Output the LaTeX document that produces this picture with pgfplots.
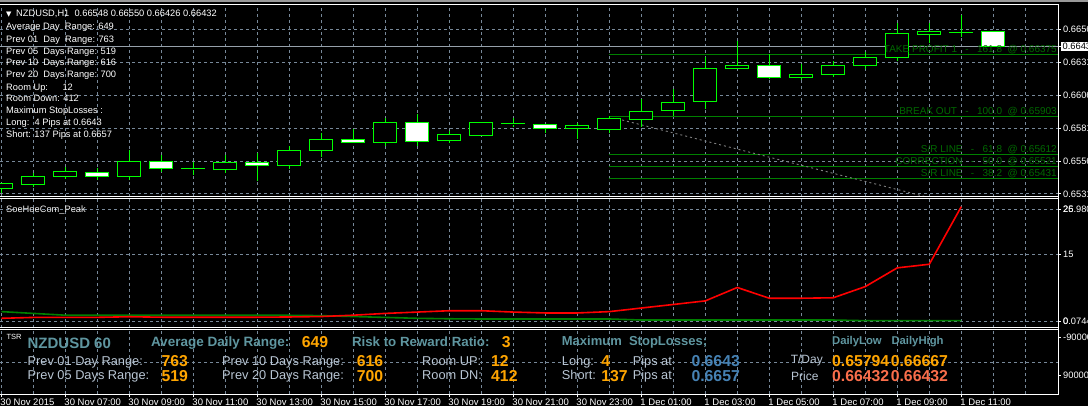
\documentclass[border=0pt]{standalone}
\usepackage{pgfplots}
\pgfplotsset{compat=1.18}
\usepackage{pgfplotstable}
\usepgfplotslibrary{statistics}
\usepackage{fontspec}
\setmainfont{Liberation Sans}
\newfontfamily\dejavu{DejaVu Sans}

\definecolor{gridc}{RGB}{119,136,153}
\definecolor{candlegreen}{RGB}{0,255,0}
\definecolor{lvl}{RGB}{0,128,0}
\definecolor{lvltext}{RGB}{0,105,0}
\definecolor{cadet}{RGB}{95,150,160}
\definecolor{lsb}{RGB}{185,198,212}
\definecolor{orng}{RGB}{255,165,0}
\definecolor{steel}{RGB}{70,130,180}
\definecolor{tomato}{RGB}{250,110,75}
\definecolor{pricegray}{RGB}{150,160,170}
\definecolor{peakgreen}{RGB}{0,128,0}

\newcommand\fs[1]{\fontsize{#1}{#1}\selectfont}

% hourly candles, NZDUSD H1 (index 0 = 30 Nov 05:00)
\pgfplotstableread{
i O H L C
0 0.65355 0.65390 0.65322 0.65388
1 0.65386 0.65469 0.65363 0.65446
2 0.65446 0.65515 0.65423 0.65484
3 0.65477 0.65507 0.65418 0.65446
4 0.65443 0.65646 0.65418 0.65560
5 0.65560 0.65603 0.65481 0.65507
6 0.65502 0.65557 0.65456 0.65505
7 0.65496 0.65603 0.65469 0.65553
8 0.65553 0.65621 0.65410 0.65530
9 0.65530 0.65679 0.65502 0.65644
10 0.65641 0.65773 0.65595 0.65727
11 0.65727 0.65803 0.65704 0.65704
12 0.65704 0.65887 0.65676 0.65856
13 0.65856 0.65919 0.65676 0.65712
14 0.65720 0.65790 0.65697 0.65765
15 0.65758 0.65856 0.65758 0.65856
16 0.65844 0.65887 0.65823 0.65847
17 0.65841 0.65841 0.65773 0.65811
18 0.65811 0.65849 0.65727 0.65834
19 0.65803 0.65904 0.65777 0.65887
20 0.65879 0.66031 0.65818 0.65940
21 0.65947 0.66107 0.65906 0.66008
22 0.66016 0.66350 0.65955 0.66266
23 0.66266 0.66471 0.66259 0.66289
24 0.66289 0.66375 0.66183 0.66198
25 0.66198 0.66299 0.66175 0.66221
26 0.66221 0.66322 0.66200 0.66289
27 0.66289 0.66388 0.66259 0.66350
28 0.66350 0.66608 0.66320 0.66532
29 0.66525 0.66608 0.66456 0.66547
30 0.66538 0.66667 0.66506 0.66541
31 0.66548 0.66550 0.66426 0.66432
}\candles

% SoeHoeCom_Peak indicator
\pgfplotstableread{
i r g
0 0.60 2.10
1 0.80 1.70
2 0.82 1.30
3 0.82 1.28
4 0.95 1.28
5 0.85 1.28
6 0.85 1.28
7 0.85 1.28
8 0.85 1.28
9 0.90 1.28
10 1.00 1.20
11 1.30 1.00
12 1.70 0.80
13 2.00 0.60
14 2.30 0.50
15 2.30 0.45
16 2.00 0.45
17 1.80 0.45
18 1.80 0.45
19 2.10 0.45
20 2.90 0.22
21 3.70 0.22
22 4.50 0.22
23 7.50 0.22
24 5.10 0.22
25 5.10 0.22
26 5.20 0.22
27 7.70 0.07
28 11.90 0.07
29 12.70 0.07
30 25.60 0.07
}\peak

\pgfplotsset{
  mtaxis/.style={
    scale only axis, width=1058pt, anchor=north west,
    xmin=-0.040625, xmax=33.0219,
    axis line style={draw=none},
    grid=both,
    major grid style={draw=gridc, dash pattern=on 3pt off 3pt, line width=0.8pt},
    minor grid style={draw=gridc, dash pattern=on 3pt off 3pt, line width=0.8pt},
    xtick={0,2,...,30}, minor xtick={1,3,...,31,32},
    ytick pos=right, yticklabel pos=right,
    tick align=outside,
    major tick length=3pt, minor tick length=0pt,
    tick style={white, line width=0.8pt},
    yticklabel style={font=\fs{9.3}, text=white, anchor=west, inner sep=2pt},
  },
  candle/.style={draw=candlegreen, line width=1pt, solid, mark=none,
    boxplot/draw direction=y,
    boxplot/box extend=0.72, boxplot/whisker extend=0},
  % prices are plotted as pips above 0.65000
  pricey/.style={y filter/.expression={(y-0.65)*10000}},
}

\begin{document}
\begin{tikzpicture}
\path[use as bounding box] (0pt,0pt) rectangle (1088pt,-406pt);
\fill[black] (0pt,0pt) rectangle (1088pt,-406pt);

% ---------------- main price panel ----------------
\begin{axis}[mtaxis, at={(0pt,-5pt)}, height=192pt,
  ymin=28.89, ymax=174.72,
  xticklabels={}, xtick style={draw=none},
  ytick={31.3,56.3,81.3,106.3,131.3,156.3},
  yticklabels={0.65313,0.65563,0.65813,0.66063,0.66313,0.66563},
  extra y ticks={143.2}, extra y tick labels={0.66432},
  extra y tick style={grid=none, yticklabel style={fill=white, text=black, inner sep=1.5pt}},
]
% level lines
\addplot[pricey, lvl, line width=1pt] coordinates {(19,0.66375) (34,0.66375)};
\addplot[pricey, lvl, line width=1pt] coordinates {(19,0.65903) (34,0.65903)};
\addplot[pricey, lvl, line width=1pt] coordinates {(19,0.65612) (34,0.65612)};
\addplot[pricey, lvl, line width=1pt] coordinates {(19,0.65521) (34,0.65521)};
\addplot[pricey, lvl, line width=1pt] coordinates {(19,0.65431) (34,0.65431)};
% current price line
\addplot[pricey, pricegray, line width=0.9pt] coordinates {(-1,0.66432) (34,0.66432)};
% trend line
\addplot[pricey, gray, line width=0.9pt, dash pattern=on 2pt off 3pt] coordinates {(19.25,0.65883) (30,0.65223)};
% candles
\pgfplotsinvokeforeach{0,...,31}{%
  \pgfplotstablegetelem{#1}{O}\of\candles\pgfmathsetmacro\cO{(\pgfplotsretval-0.65)*10000}%
  \pgfplotstablegetelem{#1}{H}\of\candles\pgfmathsetmacro\cH{(\pgfplotsretval-0.65)*10000}%
  \pgfplotstablegetelem{#1}{L}\of\candles\pgfmathsetmacro\cL{(\pgfplotsretval-0.65)*10000}%
  \pgfplotstablegetelem{#1}{C}\of\candles\pgfmathsetmacro\cC{(\pgfplotsretval-0.65)*10000}%
  \ifdim\cC pt<\cO pt
    \edef\cLo{\cC}\edef\cHi{\cO}\def\cF{white}%
  \else
    \edef\cLo{\cO}\edef\cHi{\cC}\def\cF{black}%
  \fi
  \edef\doit{\noexpand\addplot[candle, boxplot/every box/.style={draw=candlegreen, fill=\cF},
    boxplot prepared={draw position=#1, lower whisker=\cL, lower quartile=\cLo,
      median=\cLo, upper quartile=\cHi, upper whisker=\cH}] coordinates {};}%
  \doit
}
% level texts
\node[anchor=base east, inner sep=0pt, text=lvltext, font=\fs{10}, yshift=2pt] at (axis cs:32.99,137.5) {TAKE PROFIT 1\ \ \ -\ \ \ 161.8\ \ @ 0.66375};
\node[anchor=base east, inner sep=0pt, text=lvltext, font=\fs{10}, yshift=2pt] at (axis cs:32.99,90.3) {BREAK OUT\ \ \ -\ \ \ 100.0\ \ @ 0.65903};
\node[anchor=base east, inner sep=0pt, text=lvltext, font=\fs{10}, yshift=2pt] at (axis cs:32.99,61.2) {S/R LINE\ \ \ -\ \ \ 61.8\ \ @ 0.65612};
\node[anchor=base east, inner sep=0pt, text=lvltext, font=\fs{10}, yshift=2pt] at (axis cs:32.99,52.1) {CORRECTION\ \ \ -\ \ \ 50.0\ \ @ 0.65521};
\node[anchor=base east, inner sep=0pt, text=lvltext, font=\fs{10}, yshift=2pt] at (axis cs:32.99,43.1) {S/R LINE\ \ \ -\ \ \ 38.2\ \ @ 0.65431};
\end{axis}

% ---------------- indicator panel ----------------
\begin{axis}[mtaxis, at={(0pt,-199pt)}, height=129pt,
  ymin=-1.567, ymax=27.31,
  xticklabels={}, xtick style={draw=none},
  ytick={0,15,25}, yticklabels={0,15,25},
  extra y ticks={0,25}, extra y tick labels={0.0744,26.980},
  extra y tick style={grid=none},
]
\addplot[peakgreen, line width=1.6pt] table[x=i,y=g]{\peak};
\addplot[red, line width=1.6pt] table[x=i,y=r]{\peak};
\end{axis}

% ---------------- TSR panel ----------------
\begin{axis}[mtaxis, at={(0pt,-330pt)}, height=64pt,
  ymin=-1, ymax=1,
  ymajorgrids=false,
  ytick={-0.419,0.781}, yticklabels={90000,-90000},
  extra y ticks={0}, extra y tick labels={},
  extra y tick style={grid=major, major tick length=0pt},
  xtick pos=left,
  xticklabels={30 Nov 2015,30 Nov 07:00,30 Nov 09:00,30 Nov 11:00,30 Nov 13:00,30 Nov 15:00,30 Nov 17:00,30 Nov 19:00,30 Nov 21:00,30 Nov 23:00,1 Dec 01:00,1 Dec 03:00,1 Dec 05:00,1 Dec 07:00,1 Dec 09:00,1 Dec 11:00},
  xticklabel style={font=\fs{9.5}, text=white, anchor=base west, inner sep=0pt, xshift=-1pt, yshift=-8pt},
]
\end{axis}

% ---------------- frames ----------------
\draw[gray!80, line width=2pt] (0pt,-1pt) -- (1088pt,-1pt);
\foreach \yy in {5,197,199,328,330,394}{\draw[white, line width=1pt] (0pt,-\yy pt) -- (1058pt,-\yy pt);}
\draw[white, line width=1pt] (1058pt,-4.5pt) -- (1058pt,-394.5pt);

% ---------------- top-left info ----------------
\node[anchor=base west, inner sep=0pt, text=white, font=\dejavu\fs{7}] at (6pt,-16.5pt) {▼};
\node[anchor=base west, inner sep=0pt, text=white, font=\fs{9.3}] at (16pt,-16.7pt) {NZDUSD,H1\ \ 0.66548 0.66550 0.66426 0.66432};
\begin{scope}[every node/.style={anchor=base west, inner sep=0pt, text=white, font=\fs{9.3}}]
\node at (6pt,-30pt) {Average Day\ \ Range: 649};
\node at (6pt,-42.3pt) {Prev 01\ \ Day\ \ Range: 763};
\node at (6pt,-54.3pt) {Prev 05\ \ Days Range: 519};
\node at (6pt,-65.7pt) {Prev 10\ \ Days Range: 616};
\node at (6pt,-77.3pt) {Prev 20\ \ Days Range: 700};
\node at (6pt,-90.3pt) {Room Up:};
\node at (62.3pt,-90.3pt) {12};
\node at (6pt,-102pt) {Room Down: 412};
\node at (6pt,-113.7pt) {Maximum StopLosses :};
\node at (6pt,-126pt) {Long:\ \ 4 Pips at 0.6643};
\node at (6pt,-137.7pt) {Short: 137 Pips at 0.6657};
\node[text=white!90!gray] at (6pt,-212.3pt) {SoeHoeCom\_Peak};
\end{scope}

% ---------------- TSR texts ----------------
\begin{scope}[every node/.style={anchor=base west, inner sep=0pt}]
\node[text=white, font=\fs{7.5}] at (6.3pt,-339.8pt) {TSR};
\node[text=cadet, font=\bfseries\fs{15}] at (27.4pt,-348.2pt) {NZDUSD 60};
\node[text=cadet, font=\bfseries\fs{13.5}] at (150.8pt,-347pt) {Average Daily Range:};
\node[text=orng, font=\bfseries\fs{15.8}] at (301.6pt,-347.5pt) {649};
\node[text=cadet, font=\bfseries\fs{13.3}] at (351.8pt,-347pt) {Risk to Reward Ratio:};
\node[text=orng, font=\bfseries\fs{15.8}] at (501.6pt,-347.5pt) {3};
\node[text=cadet, font=\bfseries\fs{13}] at (561.7pt,-345.7pt) {Maximum\ \ StopLosses;};
\node[text=cadet, font=\bfseries\fs{11.3}] at (831.9pt,-344.7pt) {DailyLow};
\node[text=cadet, font=\bfseries\fs{11.3}] at (891.3pt,-344.7pt) {DailyHigh};
% row 2
\node[text=lsb, font=\fs{12.8}] at (27.4pt,-365pt) {Prev 01 Day Range:};
\node[text=orng, font=\bfseries\fs{15.8}] at (161.3pt,-366.8pt) {763};
\node[text=lsb, font=\fs{12.8}] at (222pt,-365pt) {Prev 10 Days Range:};
\node[text=orng, font=\bfseries\fs{15.8}] at (356.7pt,-366.8pt) {616};
\node[text=lsb, font=\fs{12.8}] at (422pt,-365pt) {Room UP:};
\node[text=orng, font=\bfseries\fs{15.8}] at (491pt,-366.8pt) {12};
\node[text=lsb, font=\fs{12.8}] at (561.7pt,-365pt) {Long:};
\node[text=orng, font=\bfseries\fs{15.8}] at (601.2pt,-366.8pt) {4};
\node[text=lsb, font=\fs{12.8}] at (632.6pt,-365pt) {Pips at};
\node[text=steel, font=\bfseries\fs{15.8}] at (691.3pt,-366.8pt) {0.6643};
\node[text=lsb, font=\fs{12}] at (790.6pt,-363.9pt) {T/Day};
\node[text=orng, font=\bfseries\fs{15.8}] at (831.9pt,-366.8pt) {0.65794};
\node[text=orng, font=\bfseries\fs{15.8}] at (890.6pt,-366.8pt) {0.66667};
% row 3
\node[text=lsb, font=\fs{12.8}] at (27.4pt,-379.8pt) {Prev 05 Days Range:};
\node[text=orng, font=\bfseries\fs{15.8}] at (161.3pt,-381.7pt) {519};
\node[text=lsb, font=\fs{12.8}] at (222pt,-379.8pt) {Prev 20 Days Range:};
\node[text=orng, font=\bfseries\fs{15.8}] at (356.7pt,-381.7pt) {700};
\node[text=lsb, font=\fs{12.8}] at (422pt,-379.8pt) {Room DN:};
\node[text=orng, font=\bfseries\fs{15.8}] at (491pt,-381.7pt) {412};
\node[text=lsb, font=\fs{12.8}] at (561.7pt,-379.8pt) {Short:};
\node[text=orng, font=\bfseries\fs{15.8}] at (601.2pt,-381.7pt) {137};
\node[text=lsb, font=\fs{12.8}] at (632.6pt,-379.8pt) {Pips at};
\node[text=steel, font=\bfseries\fs{15.8}] at (691.3pt,-381.7pt) {0.6657};
\node[text=lsb, font=\fs{12}] at (791pt,-381pt) {Price};
\node[text=tomato, font=\bfseries\fs{15.8}] at (831.9pt,-381.7pt) {0.66432};
\node[text=tomato, font=\bfseries\fs{15.8}] at (890.6pt,-381.7pt) {0.66432};
\end{scope}
\end{tikzpicture}
\end{document}
